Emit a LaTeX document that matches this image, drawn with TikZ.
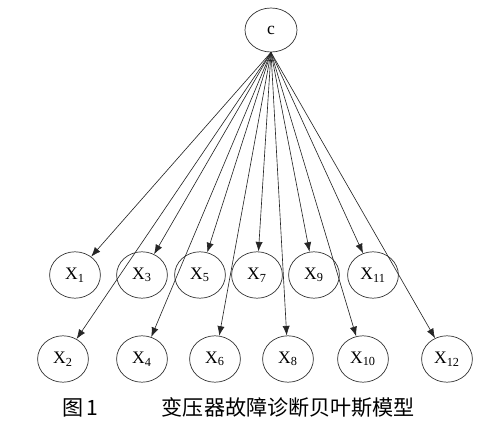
\documentclass[tikz,border=0pt]{standalone}
\usepackage{fontspec}
\setmainfont{Liberation Serif}
\newfontfamily\cjk{Noto Sans CJK SC}
\usepackage{tikz}
\usetikzlibrary{arrows.meta,shapes.geometric}
\tikzset{var/.style={
    draw=black!80, ellipse, line width=0.5pt,
    minimum width=1.27cm, minimum height=1.16cm,
    inner sep=0pt, font=\fontsize{12.5}{14}\selectfont
  },
  link/.style={->, line width=0.45pt, draw=black!85}
}

\begin{document}
\begin{tikzpicture}[x=0.025cm, y=-0.025cm, >={Latex[length=2.4mm,width=1.8mm]}]
            \useasboundingbox (0,0) rectangle (496,437);
            \node[var, minimum width=1.3cm, minimum height=1.1cm] (C) at (271, 30) {c};

            \node[var] (X1) at (75, 275) {X\textsubscript{1}};
            \node[var] (X3) at (142, 275) {X\textsubscript{3}};
            \node[var] (X5) at (200, 275) {X\textsubscript{5}};
            \node[var] (X7) at (257, 275) {X\textsubscript{7}};
            \node[var] (X9) at (314, 275) {X\textsubscript{9}};
            \node[var] (X11) at (373, 275) {X\textsubscript{11}};

            \node[var] (X2) at (63, 359) {X\textsubscript{2}};
            \node[var] (X4) at (142, 359) {X\textsubscript{4}};
            \node[var] (X6) at (215, 359) {X\textsubscript{6}};
            \node[var] (X8) at (288, 359) {X\textsubscript{8}};
            \node[var] (X10) at (363, 359) {X\textsubscript{10}};
            \node[var] (X12) at (447, 359) {X\textsubscript{12}};

            \draw[link] (C.south) -- (X1);
            \draw[link] (C.south) -- (X2);
            \draw[link] (C.south) -- (X3);
            \draw[link] (C.south) -- (X4);
            \draw[link] (C.south) -- (X5);
            \draw[link] (C.south) -- (X6);
            \draw[link] (C.south) -- (X7);
            \draw[link] (C.south) -- (X8);
            \draw[link] (C.south) -- (X9);
            \draw[link] (C.south) -- (X10);
            \draw[link] (C.south) -- (X11);
            \draw[link] (C.south) -- (X12);

            \node[anchor=west, inner sep=0pt, font=\cjk\fontsize{15}{17}\selectfont] (cap) at (62, 408)
                {图\,1\hspace{3.0em}变压器故障诊断贝叶斯模型};
        \end{tikzpicture}
\end{document}
